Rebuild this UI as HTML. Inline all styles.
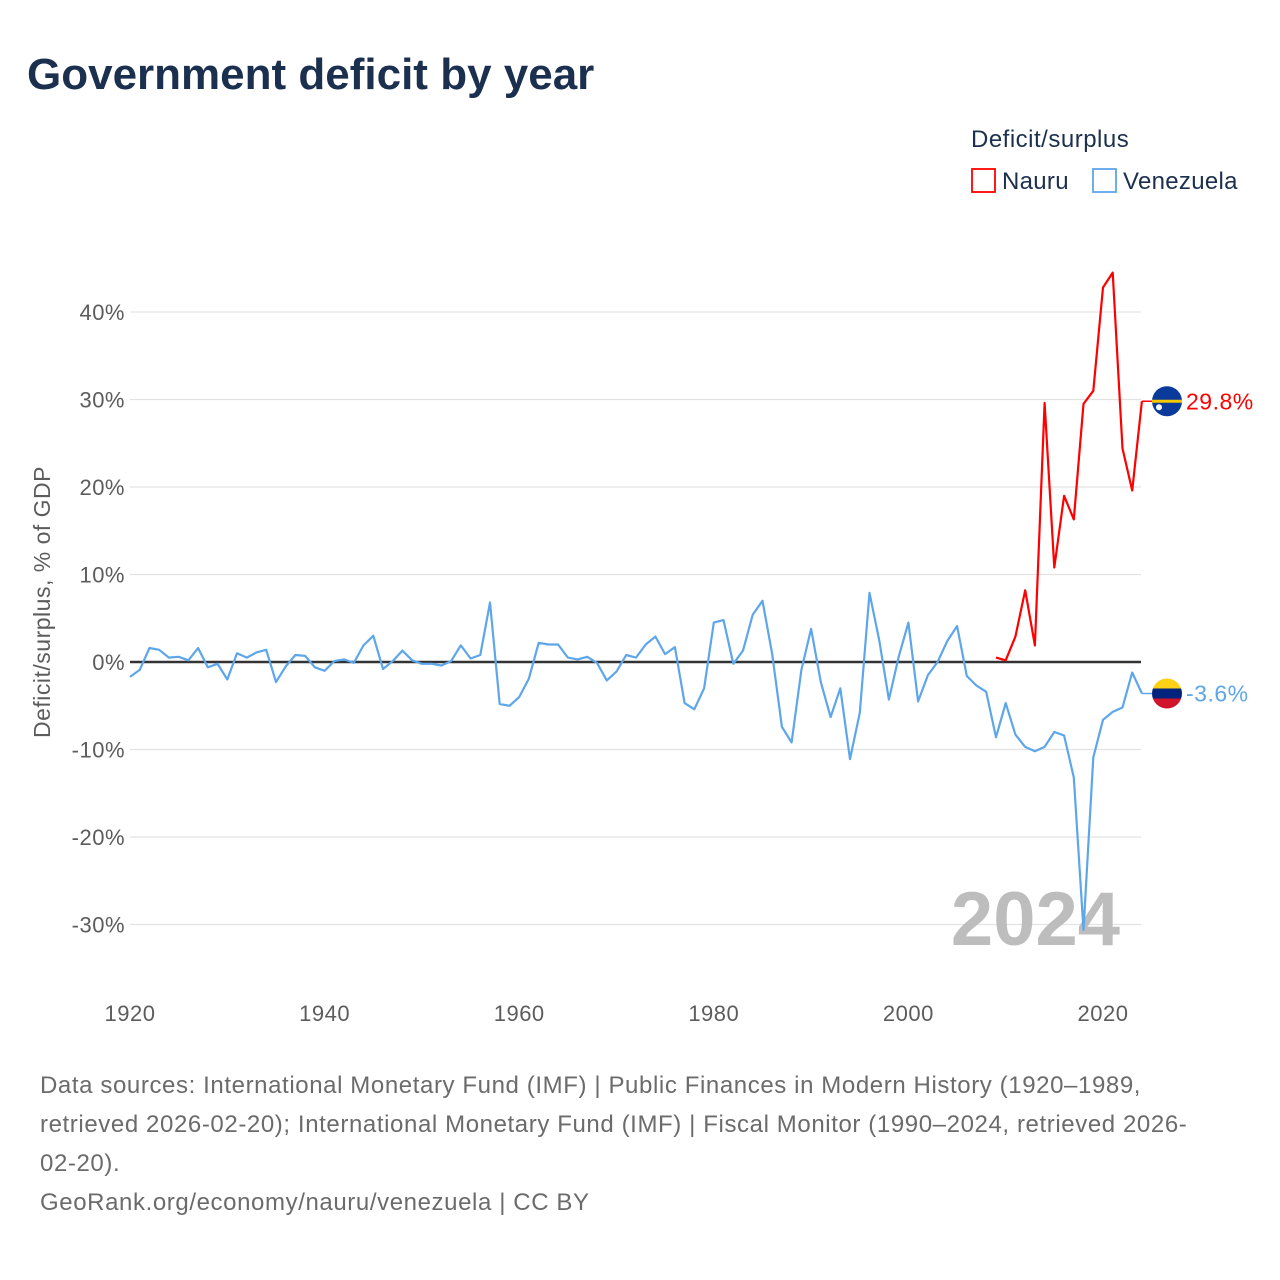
<!DOCTYPE html>
<html><head><meta charset="utf-8"><style>
body{margin:0;background:#fff;font-family:"Liberation Sans",sans-serif;}
#wrap{position:relative;width:1280px;height:1280px;overflow:hidden;}
h1{position:absolute;left:27px;top:50px;margin:0;font-size:44px;font-weight:bold;color:#1b2f4e;letter-spacing:0px;}
.foot{position:absolute;left:40px;font-size:24px;color:#6b6b6b;line-height:39px;white-space:nowrap;letter-spacing:0.6px;}
</style></head><body>
<div id="wrap">
<h1>Government deficit by year</h1>
<svg id="chart" width="1280" height="1280" style="position:absolute;left:0;top:0"></svg>
<div class="foot" style="top:1066px">Data sources: International Monetary Fund (IMF) | Public Finances in Modern History (1920–1989,<br>retrieved 2026-02-20); International Monetary Fund (IMF) | Fiscal Monitor (1990–2024, retrieved 2026-<br>02-20).</div>
<div class="foot" style="top:1183px">GeoRank.org/economy/nauru/venezuela | CC BY</div>
</div>
<script>
const venYears=[];for(let y=1920;y<=2024;y++)venYears.push(y);
const venValues=[-1.7,-0.9,1.6,1.4,0.5,0.6,0.2,1.6,-0.6,-0.2,-2.0,1.0,0.5,1.1,1.4,-2.3,-0.5,0.8,0.7,-0.6,-1.0,0.1,0.3,-0.1,1.9,3.0,-0.8,0.1,1.3,0.2,-0.2,-0.2,-0.4,0.1,1.9,0.4,0.8,6.8,-4.8,-5.0,-4.0,-1.9,2.2,2.0,2.0,0.5,0.3,0.6,-0.1,-2.1,-1.1,0.8,0.5,2.0,2.9,0.9,1.7,-4.7,-5.4,-3.0,4.5,4.8,-0.2,1.3,5.4,7.0,0.9,-7.4,-9.2,-0.9,3.8,-2.3,-6.3,-3.0,-11.1,-5.8,7.9,2.5,-4.3,0.6,4.5,-4.5,-1.5,0,2.4,4.1,-1.6,-2.7,-3.4,-8.6,-4.7,-8.3,-9.7,-10.2,-9.7,-8.0,-8.4,-13.2,-30.6,-10.9,-6.6,-5.7,-5.2,-1.2,-3.6];
const nauYears=[];for(let y=2009;y<=2024;y++)nauYears.push(y);
const nauValues=[0.5,0.2,2.9,8.2,1.9,29.6,10.8,19.0,16.3,29.5,31.0,42.8,44.5,24.4,19.6,29.8];
const yTicks=[40,30,20,10,0,-10,-20,-30];
const xTicks=[1920,1940,1960,1980,2000,2020];
const NS="http://www.w3.org/2000/svg";
const svg=document.getElementById('chart');
const X0=130,X1=1141;
const xs=y=>130+(y-1920)*9.73;
const ys=v=>662-v*8.75;
function el(t,a,p){const e=document.createElementNS(NS,t);for(const k in a)e.setAttribute(k,a[k]);(p||svg).appendChild(e);return e;}
yTicks.forEach(v=>{
 const l=el('line',{x1:X0,x2:X1,y1:ys(v),y2:ys(v),stroke:v===0?'#333':'#e3e3e3','stroke-width':v===0?2.5:1.2});
 
 
 const t=el('text',{x:125,y:ys(v)+8,'text-anchor':'end','font-size':22,fill:'#5c5c5c','letter-spacing':0.5});
 t.textContent=v+'%';
 
 
});
xTicks.forEach(y=>{
 const t=el('text',{x:xs(y),y:1021,'text-anchor':'middle','font-size':22,fill:'#5c5c5c','letter-spacing':0.5});
 t.textContent=y;
 
 
});
const yl=el('text',{transform:'translate(50,602) rotate(-90)','text-anchor':'middle','font-size':23,fill:'#5c5c5c','letter-spacing':0.5});
yl.textContent='Deficit/surplus, % of GDP';


const yr=el('text',{x:1120,y:945,'text-anchor':'end','font-size':76,'font-weight':'bold',fill:'#bdbdbd'});
yr.textContent='2024';


function series(years,vals,color,name){
 const d=years.map((y,i)=>(i?'L':'M')+xs(y).toFixed(1)+','+ys(vals[i]).toFixed(1)).join(' ');
 const p=el('path',{d:d,fill:'none',stroke:color,'stroke-width':2.2,'stroke-linejoin':'round'});
 
 
 const lv=vals[vals.length-1],ly=ys(lv);
 el('line',{x1:xs(years[years.length-1]),x2:1152,y1:ly,y2:ly,stroke:color,'stroke-width':1.5});
 const t=el('text',{x:1186,y:ly+8,'font-size':23,fill:color,'letter-spacing':0.5});
 t.textContent=lv.toFixed(1)+'%';
 
 
 return ly;
}
const ny=series(nauYears,nauValues,'#f00','nauru');
const vy=series(venYears,venValues,'#5ea6ea','venezuela');
const g1=el('g',{});
el('circle',{cx:1167,cy:ny,r:15,fill:'#0a3a9a'},g1);
el('rect',{x:1152,y:ny-1.5,width:30,height:3,fill:'#f7c800'},g1);
el('circle',{cx:1159,cy:ny+6,r:3,fill:'#fff'},g1);
const g2=el('g',{});
const cp=el('clipPath',{id:'vc'},g2);el('circle',{cx:1167,cy:vy,r:15},cp);
el('rect',{x:1152,y:vy-15,width:30,height:10,fill:'#fcd116','clip-path':'url(#vc)'},g2);
el('rect',{x:1152,y:vy-5,width:30,height:10,fill:'#00247d','clip-path':'url(#vc)'},g2);
el('rect',{x:1152,y:vy+5,width:30,height:10,fill:'#cf142b','clip-path':'url(#vc)'},g2);
const lt=el('text',{x:971,y:147,'font-size':24,fill:'#1b2f4e','letter-spacing':0.5});lt.textContent='Deficit/surplus';

[['Nauru','#f00',971],['Venezuela','#5ea6ea',1092]].forEach(([n,c,x])=>{
 const g=el('g',{});
 
 
 el('rect',{x:x+1,y:169,width:23,height:23,fill:'none',stroke:c,'stroke-width':1.8},g);
 const t=el('text',{x:x+31,y:189,'font-size':24,fill:'#1b2f4e','letter-spacing':0.3},g);t.textContent=n;
});
</script>
</body></html>
